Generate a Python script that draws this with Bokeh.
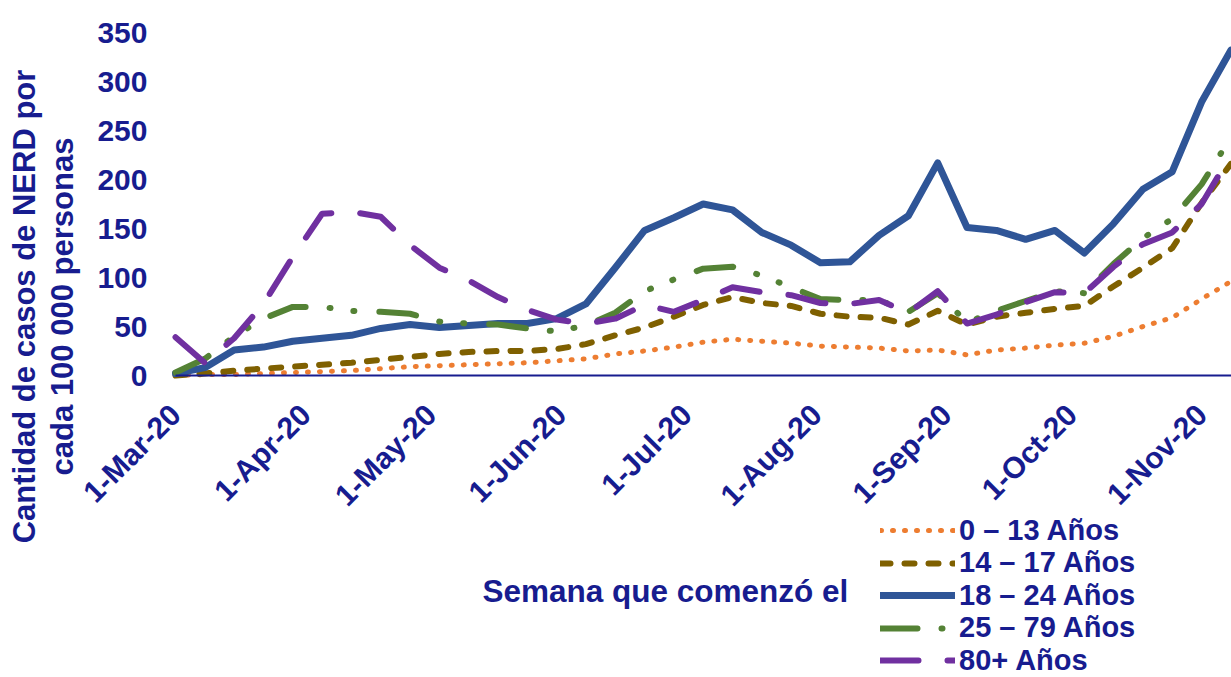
from math import pi
import pandas as pd
from bokeh.plotting import figure
from bokeh.models import Range1d, FixedTicker, Legend, LegendItem, Label
from bokeh.embed import file_html
from bokeh.resources import INLINE

# ---------------- data ----------------
week_start = [
    "2020-03-01", "2020-03-08", "2020-03-15", "2020-03-22", "2020-03-29",
    "2020-04-05", "2020-04-12", "2020-04-19", "2020-04-26",
    "2020-05-03", "2020-05-10", "2020-05-17", "2020-05-24", "2020-05-31",
    "2020-06-07", "2020-06-14", "2020-06-21", "2020-06-28",
    "2020-07-05", "2020-07-12", "2020-07-19", "2020-07-26",
    "2020-08-02", "2020-08-09", "2020-08-16", "2020-08-23", "2020-08-30",
    "2020-09-06", "2020-09-13", "2020-09-20", "2020-09-27",
    "2020-10-04", "2020-10-11", "2020-10-18", "2020-10-25",
    "2020-11-01", "2020-11-08",
]

age_0_13 = [0, 1, 1, 2, 3, 4, 5, 7, 9, 10, 11, 12, 13, 15, 17, 22, 25, 29, 34, 37,
            35, 33, 30, 29, 28, 25, 26, 21, 26, 28, 31, 33, 40, 50, 59, 78, 96]
age_14_17 = [0, 2, 5, 7, 9, 11, 13, 16, 19, 22, 24, 25, 25, 27, 32, 41, 49, 60, 72, 80,
             74, 71, 63, 60, 59, 52, 66, 52, 60, 64, 68, 71, 91, 110, 130, 176, 216]
age_18_24 = [2, 8, 26, 29, 35, 38, 41, 48, 52, 49, 51, 53, 53, 58, 73, 110, 148, 161, 175, 169,
             146, 133, 115, 116, 143, 163, 217, 151, 148, 139, 148, 125, 155, 190, 208, 279, 332]
age_25_79 = [3, 17, 40, 58, 70, 70, 66, 65, 63, 55, 53, 52, 48, 45, 51, 64, 86, 98, 109, 111,
             102, 90, 78, 77, 77, 65, 84, 54, 66, 76, 86, 84, 114, 140, 160, 195, 243]
age_80_plus = [39, 13, 38, 73, 121, 165, 167, 162, 133, 110, 97, 80, 67, 57, 53, 58, 72, 65, 77, 90,
               85, 82, 74, 73, 77, 64, 86, 53, 62, 75, 85, 84, 111, 134, 146, 175, 225]

series_labels = ["0 \u2013 13 A\u00f1os", "14 \u2013 17 A\u00f1os", "18 \u2013 24 A\u00f1os",
                 "25 \u2013 79 A\u00f1os", "80+ A\u00f1os"]

tick_dates = ["2020-03-01", "2020-04-01", "2020-05-01", "2020-06-01", "2020-07-01",
              "2020-08-01", "2020-09-01", "2020-10-01", "2020-11-01"]
tick_labels = ["1-Mar-20", "1-Apr-20", "1-May-20", "1-Jun-20", "1-Jul-20",
               "1-Aug-20", "1-Sep-20", "1-Oct-20", "1-Nov-20"]
y_ticks = [0, 50, 100, 150, 200, 250, 300, 350]

y_title = ["Cantidad de casos de NERD por", "cada 100 000 personas"]
x_title = "Semana que comenz\u00f3 el"

# ---------------- layout / style ----------------
W, H = 1231, 677
X0, Y0 = 175, 375          # pixel of (day 0, value 0)
PX_DAY, PX_VAL = 4.188, 0.98
NAVY = "#171C8F"
FONT = "Liberation Sans"
colors = ["#ED7D31", "#7F6000", "#2F5597", "#548235", "#7030A0"]
widths = [5, 6, 7, 6, 6]
dashes = ["1 11", "10 14", "solid", "37 24 1 23 1 25", "38 29"]
legend_row_px = [530, 562.5, 595, 627.5, 660]   # vertical centres of legend rows
ROW_H = 40


def dx(px):
    return (px - X0) / PX_DAY


def dy(py):
    return (Y0 - py) / PX_VAL


origin = pd.Timestamp(week_start[0])
x_days = [(pd.Timestamp(d) - origin).days for d in week_start]
tick_days = [(pd.Timestamp(d) - origin).days for d in tick_dates]

p = figure(width=W, height=H, output_backend="svg", toolbar_location=None,
           x_range=Range1d(dx(0), dx(W)), y_range=Range1d(dy(H), dy(0)),
           min_border=0, min_border_left=0, min_border_right=0,
           min_border_top=0, min_border_bottom=0)
p.outline_line_color = None
p.grid.grid_line_color = None
p.background_fill_color = "white"
p.border_fill_color = "white"

# x axis, pinned at value 0
p.xaxis.fixed_location = 0
p.xaxis.bounds = (0, dx(W))
p.xaxis.ticker = FixedTicker(ticks=tick_days)
p.xaxis.major_label_overrides = {d: lab for d, lab in zip(tick_days, tick_labels)}
p.xaxis.major_label_orientation = pi / 4
p.xaxis.axis_line_color = NAVY
p.xaxis.axis_line_width = 2
p.xaxis.major_tick_line_color = None
p.xaxis.minor_tick_line_color = None
p.xaxis.major_tick_out = 0
p.xaxis.major_tick_in = 0
p.xaxis.major_label_standoff = 34
p.xaxis.major_label_text_font = FONT
p.xaxis.major_label_text_font_size = "30px"
p.xaxis.major_label_text_font_style = "bold"
p.xaxis.major_label_text_color = NAVY

# y axis, pinned at day 0
p.yaxis.fixed_location = 0
p.yaxis.ticker = FixedTicker(ticks=y_ticks)
p.yaxis.axis_line_color = None
p.yaxis.major_tick_line_color = None
p.yaxis.minor_tick_line_color = None
p.yaxis.major_tick_out = 0
p.yaxis.major_tick_in = 0
p.yaxis.major_label_standoff = 28
p.yaxis.major_label_text_font = FONT
p.yaxis.major_label_text_font_size = "30px"
p.yaxis.major_label_text_font_style = "bold"
p.yaxis.major_label_text_color = NAVY

all_series = [age_0_13, age_14_17, age_18_24, age_25_79, age_80_plus]
for vals, lab, c, w, d, row in zip(all_series, series_labels, colors, widths,
                                   dashes, legend_row_px):
    r = p.line(x_days, vals, line_color=c, line_width=w, line_dash=d,
               line_cap="round", line_join="round")
    leg = Legend(items=[LegendItem(label=lab, renderers=[r])],
                 location=(880, H - row - ROW_H / 2), orientation="vertical",
                 glyph_width=75, glyph_height=ROW_H, label_height=ROW_H,
                 label_standoff=4, spacing=0,
                 padding=0, margin=0, border_line_color=None,
                 background_fill_alpha=0,
                 label_text_font=FONT, label_text_font_size="29px",
                 label_text_font_style="bold", label_text_color=NAVY)
    p.add_layout(leg)

for px, txt in zip([24, 62], y_title):
    p.add_layout(Label(x=dx(px), y=dy(306), text=txt,
                       angle=pi / 2, text_align="center", text_baseline="middle",
                       text_font=FONT, text_font_size="31px", text_font_style="bold",
                       text_color=NAVY))

p.add_layout(Label(x=dx(482), y=dy(590), text=x_title,
                   text_align="left", text_baseline="alphabetic",
                   text_font=FONT, text_font_size="31.5px", text_font_style="bold",
                   text_color=NAVY))

open("out.html", "w").write(file_html(p, INLINE))
